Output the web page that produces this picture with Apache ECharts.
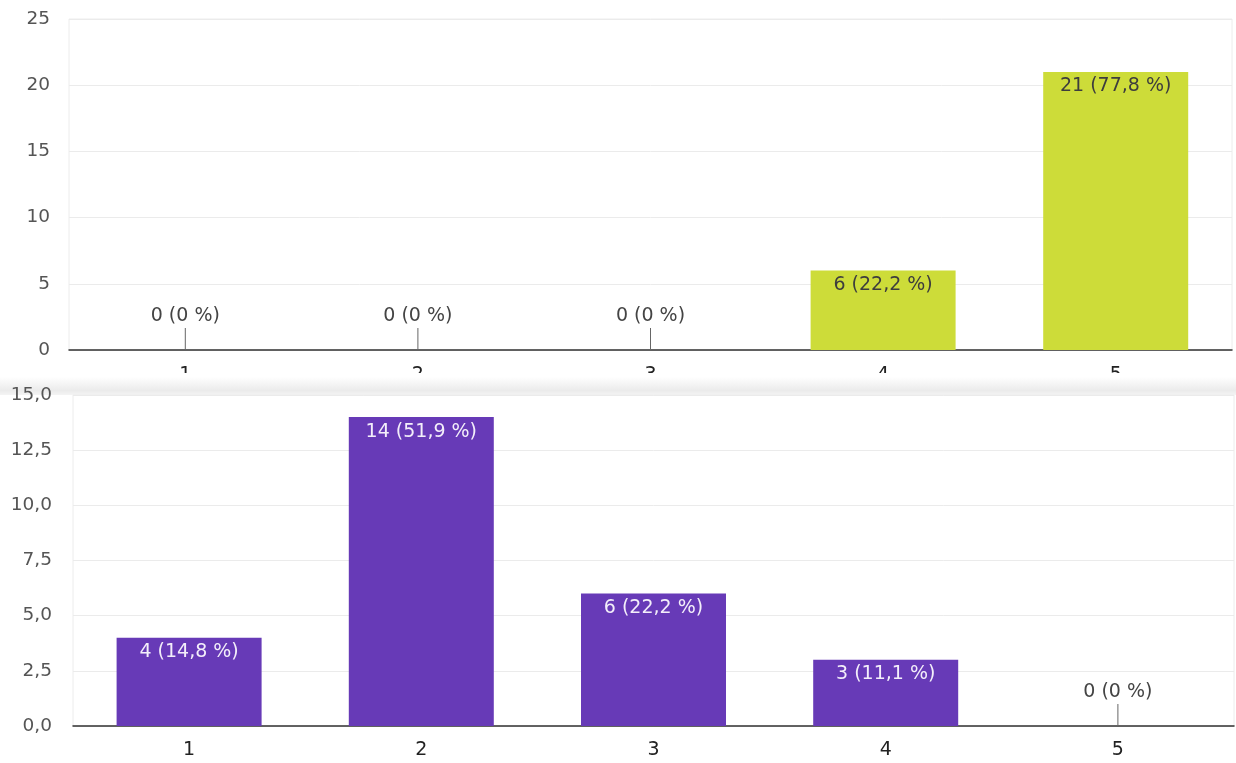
<!DOCTYPE html>
<html>
<head>
<meta charset="utf-8">
<script src="https://cdn.jsdelivr.net/npm/echarts@6/dist/echarts.min.js"></script>
<style>
  html, body { margin: 0; padding: 0; background: #fff; }
  body { width: 1236px; height: 763px; position: relative; overflow: hidden; }
  #top { position: absolute; left: 0; top: 0; width: 1236px; height: 373px; overflow: hidden; }
  #shade { position: absolute; left: 0; top: 377px; width: 1236px; height: 18px;
           background: linear-gradient(to bottom, rgba(235,235,235,0) 0%, #ebebeb 75%, #f4f4f4 100%); }
  #bottom { position: absolute; left: 0; top: 376px; width: 1236px; height: 387px; }
</style>
</head>
<body>
<div id="top"></div>
<div id="shade"></div>
<div id="bottom"></div>
<script>
// Answer scale shared by both questions
const categories = ['1', '2', '3', '4', '5'];

// First question: counts and shares per answer
const countsA = [0, 0, 0, 6, 21];
const sharesA = ['0', '0', '0', '22,2', '77,8'];
const ticksA = [0, 5, 10, 15, 20, 25];

// Second question: counts and shares per answer
const countsB = [4, 14, 6, 3, 0];
const sharesB = ['14,8', '51,9', '22,2', '11,1', '0'];
const ticksB = ['0,0', '2,5', '5,0', '7,5', '10,0', '12,5', '15,0'];

const FONT = 'DejaVu Sans';

function barData(counts, shares, insideColor) {
  return counts.map((v, i) => ({
    value: v,
    label: v === 0
      ? { position: 'top', distance: 24, color: '#444' }
      : { position: 'insideTop', distance: 5, color: insideColor },
    share: shares[i]
  }));
}

// short leader line under the label of an empty answer
function leaderSeries(counts) {
  return {
    type: 'custom',
    silent: true,
    z: 5,
    data: counts.map((v, i) => [i, v]),
    renderItem: function (params, api) {
      if (api.value(1) !== 0) return null;
      const p = api.coord([api.value(0), 0]);
      return {
        type: 'line',
        shape: { x1: p[0], y1: p[1], x2: p[0], y2: p[1] - 22 },
        style: { stroke: '#666', lineWidth: 1 }
      };
    }
  };
}

function buildOption(cfg) {
  return {
    animation: false,
    textStyle: { fontFamily: FONT },
    grid: {
      left: cfg.left, right: cfg.right, top: cfg.top, bottom: cfg.bottom,
      outerBoundsMode: 'none', containLabel: false,
      show: true, borderColor: '#ececec', borderWidth: 1, backgroundColor: 'transparent'
    },
    xAxis: {
      type: 'category',
      data: categories,
      axisTick: { show: false },
      axisLine: { lineStyle: { color: '#333', width: 1.5 } },
      axisLabel: { color: '#222', fontSize: 19, fontFamily: FONT, margin: cfg.xMargin }
    },
    yAxis: {
      type: 'value',
      min: cfg.min, max: cfg.max, interval: cfg.interval,
      axisLine: { show: false },
      axisTick: { show: false },
      splitLine: { lineStyle: { color: '#ebebeb', width: 1 } },
      axisLabel: {
        color: '#555', fontSize: 18.5, fontFamily: FONT, margin: cfg.yMargin,
        formatter: function (v) { return cfg.ticks[Math.round(v / cfg.interval)]; }
      }
    },
    series: [
      {
        type: 'bar',
        barWidth: 145,
        itemStyle: { color: cfg.color },
        data: barData(cfg.counts, cfg.shares, cfg.labelColor),
        label: {
          show: true,
          fontSize: 19,
          fontFamily: FONT,
          formatter: function (p) { return p.value + ' (' + p.data.share + ' %)'; }
        }
      },
      leaderSeries(cfg.counts)
    ]
  };
}

const chartA = echarts.init(document.getElementById('top'), null, { renderer: 'canvas' });
chartA.setOption(buildOption({
  left: 69, right: 4, top: 19, bottom: 23,
  min: 0, max: 25, interval: 5, ticks: ticksA,
  counts: countsA, shares: sharesA,
  color: '#cddc39', labelColor: '#3d3d3d',
  xMargin: 16, yMargin: 19
}));

const chartB = echarts.init(document.getElementById('bottom'), null, { renderer: 'canvas' });
chartB.setOption(buildOption({
  left: 73, right: 2, top: 19, bottom: 37,
  min: 0, max: 15, interval: 2.5, ticks: ticksB,
  counts: countsB, shares: sharesB,
  color: '#673ab7', labelColor: '#f3eefa',
  xMargin: 15, yMargin: 21
}));
</script>
</body>
</html>
